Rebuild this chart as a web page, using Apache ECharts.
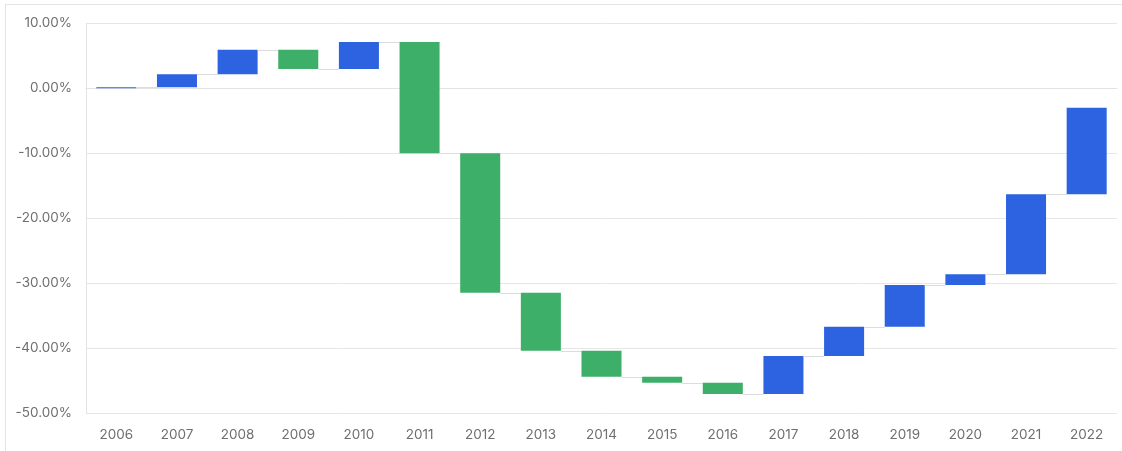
<!DOCTYPE html>
<html>
<head>
<meta charset="utf-8">
<script src="https://cdn.jsdelivr.net/npm/echarts@6/dist/echarts.min.js"></script>
<style>
  html, body { margin: 0; padding: 0; background: #ffffff; }
  #frame { position: absolute; left: 5px; top: 4px; width: 1130px; height: 460px;
           border-top: 1px solid #e4e4e4; border-left: 1px solid #e4e4e4; }
  #chart { position: absolute; left: 0; top: 0; width: 1122px; height: 451px; }
</style>
</head>
<body>
<div id="frame"></div>
<div id="chart"></div>
<script>
// Years on the category axis
const years = ['2006','2007','2008','2009','2010','2011','2012','2013','2014',
               '2015','2016','2017','2018','2019','2020','2021','2022'];
// Cumulative level (%) reached at the end of each year
const levels = [0.15, 2.15, 5.94, 2.97, 7.12, -10.0, -31.45, -40.37, -44.37,
                -45.29, -47.03, -41.18, -36.68, -30.26, -28.6, -16.3, -2.98];
// Y axis range and step (%)
const yMin = -50, yMax = 10, yStep = 10;

const UP = '#2d63e0', DOWN = '#3daf69';

// Each waterfall step runs from the previous level to the current one
const steps = levels.map((v, i) => [i, i === 0 ? 0 : levels[i - 1], v]);

const chart = echarts.init(document.getElementById('chart'));
chart.setOption({
  animation: false,
  grid: { left: 86, right: 5, top: 23.3, bottom: 37.7, containLabel: false },
  xAxis: {
    type: 'category',
    data: years,
    axisLine: { show: true, lineStyle: { color: '#e3e3e3', width: 1 } },
    axisTick: { show: false },
    axisLabel: { color: '#6f6f6f', fontSize: 13.5, fontFamily: 'Inter, Roboto, sans-serif', margin: 15 }
  },
  yAxis: {
    type: 'value',
    min: yMin, max: yMax, interval: yStep,
    axisLine: { show: true, lineStyle: { color: '#e3e3e3', width: 1 } },
    axisTick: { show: false },
    splitLine: { lineStyle: { color: '#e6e6e6', width: 1 } },
    axisLabel: {
      color: '#6f6f6f', fontSize: 13.5, fontFamily: 'Inter, Roboto, sans-serif', margin: 14,
      formatter: v => v.toFixed(2) + '%'
    }
  },
  series: [{
    type: 'custom',
    data: steps,
    encode: { x: 0, y: [1, 2] },
    renderItem: function (params, api) {
      const idx = api.value(0);
      const from = api.value(1), to = api.value(2);
      const band = api.size([1, 0])[0];
      const w = band * 0.66;
      const p0 = api.coord([idx, from]);
      const p1 = api.coord([idx, to]);
      const top = Math.min(p0[1], p1[1]);
      const h = Math.max(Math.abs(p1[1] - p0[1]), 1);
      const children = [{
        type: 'rect',
        shape: { x: p0[0] - w / 2, y: top, width: w, height: h },
        style: { fill: to >= from ? UP : DOWN }
      }];
      if (idx < levels.length - 1) {
        const y = Math.round(p1[1]) + 0.5;
        children.push({
          type: 'line',
          shape: { x1: p0[0] + w / 2, y1: y, x2: p0[0] + band - w / 2, y2: y },
          style: { stroke: '#dcdcdc', lineWidth: 1 }
        });
      }
      return { type: 'group', children: children };
    }
  }]
});
</script>
</body>
</html>
